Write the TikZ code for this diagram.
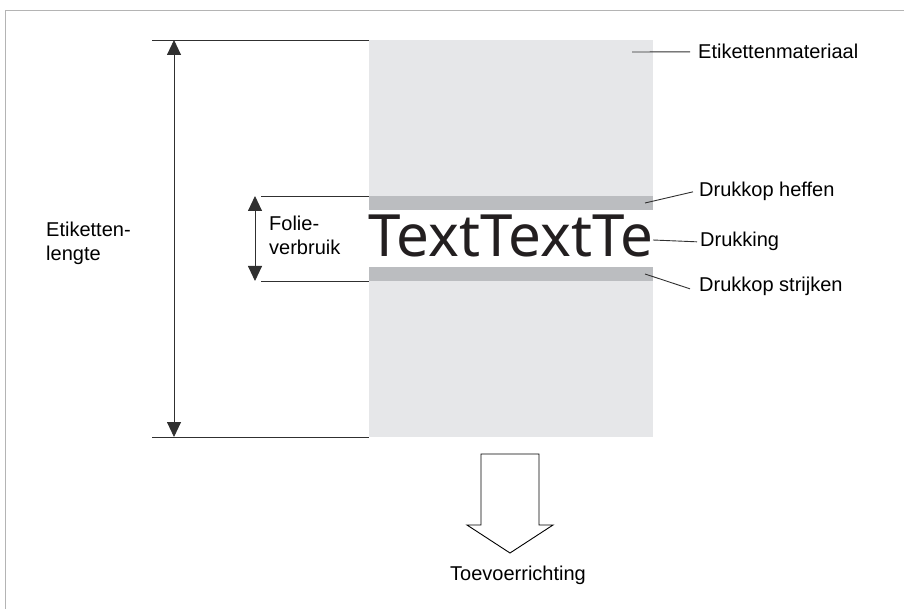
\documentclass[tikz,border=0pt]{standalone}
\usepackage{fontspec}
\setmainfont{Liberation Sans}
\newfontfamily\bigfont{Noto Sans}
\usetikzlibrary{arrows.meta}
\definecolor{matgray}{HTML}{E6E7E9}
\definecolor{bandgray}{HTML}{BBBDC0}
\definecolor{framegray}{HTML}{B4B4B4}
\definecolor{linegray}{HTML}{303030}
\begin{document}
\begin{tikzpicture}[x=1pt,y=-1pt,
  lbl/.style={font=\fontsize{20}{24}\selectfont, inner sep=0pt, text=black},
  leader/.style={draw=linegray, line width=0.9pt},
  dimline/.style={draw=linegray, line width=0.9pt},
  dimarrow/.style={draw=linegray, line width=0.9pt, {Triangle[length=15pt,width=14pt]}-{Triangle[length=15pt,width=14pt]}}]
\useasboundingbox (0,0) rectangle (904,609);
% frame
\draw[framegray, line width=1pt] (5,609) -- (5,11) -- (904,11);
% label material
\fill[matgray] (369,40) rectangle (653,437);
\fill[white] (369,210) rectangle (653,267);
\fill[bandgray] (369,196) rectangle (653,210);
\fill[bandgray] (369,267) rectangle (653,281);
% printed text
\node[anchor=base west, inner sep=0pt, text={rgb,255:red,35;green,31;blue,32}] (print) at (368,257)
  {\resizebox{285pt}{!}{\bigfont TextTextTe}};
% dimension lines
\coordinate (lt1) at (152,40); \coordinate (lt2) at (369,40);
\coordinate (lb1) at (152,437); \coordinate (lb2) at (369,437);
\draw[dimline] (lt1) -- (lt2);
\draw[dimline] (lb1) -- (lb2);
\coordinate (la) at (174,40); \coordinate (lbb) at (174,437);
\draw[dimarrow] (la) -- (lbb);
\coordinate (ft1) at (261,196); \coordinate (ft2) at (369,196);
\coordinate (fb1) at (261,281); \coordinate (fb2) at (369,281);
\draw[dimline] (ft1) -- (ft2);
\draw[dimline] (fb1) -- (fb2);
\coordinate (fa) at (255,196); \coordinate (fb) at (255,281);
\draw[dimarrow] (fa) -- (fb);
% left labels
\node[lbl, anchor=north west, align=left] (etl) at (46,222) {Etiketten-\\lengte};
\node[lbl, anchor=north west, align=left] (fol) at (269,216) {Folie-\\verbruik};
% right labels
\node[lbl, anchor=base west] (em) at (698,59) {Etikettenmateriaal};
\node[lbl, anchor=base west] (dh) at (699,197) {Drukkop heffen};
\node[lbl, anchor=base west] (dk) at (700,247) {Drukking};
\node[lbl, anchor=base west] (ds) at (699,292) {Drukkop strijken};
\coordinate (em0) at (632,52);
\coordinate (dh0) at (645,203);
\coordinate (dk0) at (653,240);
\coordinate (ds0) at (645,274);
\draw[leader] (em0) -- ([xshift=-8pt]em.west);
\draw[leader] (dh0) -- ([xshift=-6pt]dh.west);
\draw[leader] (dk0) -- ([xshift=-3pt]dk.west);
\draw[leader] (ds0) -- ([xshift=-9pt,yshift=-2pt]ds.west);
% feed direction arrow
\draw[black, line width=0.9pt, fill=white] (481,454) -- (539,454) -- (539,525) -- (553,525) -- (510,553) -- (467,525) -- (481,525) -- cycle;
\node[lbl, anchor=base] (tv) at (518,580) {Toevoerrichting};
\end{tikzpicture}
\end{document}
